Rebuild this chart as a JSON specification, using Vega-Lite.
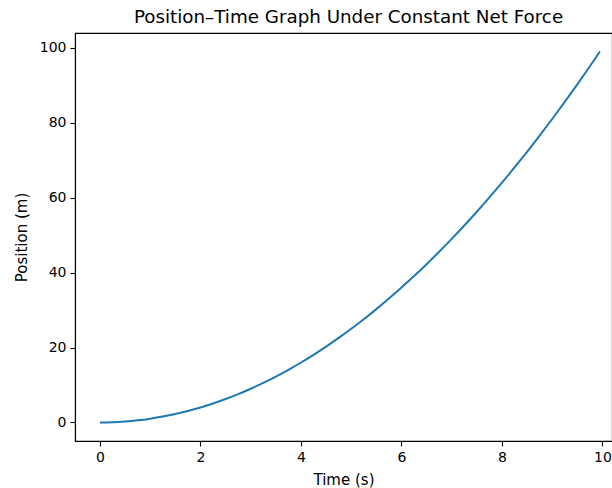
{
  "$schema": "https://vega.github.io/schema/vega-lite/v6.json",
  "autosize": "none",
  "width": 537,
  "height": 408,
  "padding": {"left": 75, "top": 33, "right": 0, "bottom": 47},
  "background": "white",
  "config": {
    "font": "DejaVu Sans",
    "view": {"stroke": "black", "strokeWidth": 1.1},
    "axis": {
      "grid": false,
      "domainColor": "black",
      "domainWidth": 1.1,
      "tickColor": "black",
      "tickWidth": 1.1,
      "tickSize": 5,
      "labelColor": "black",
      "labelFontSize": 14,
      "labelFont": "DejaVu Sans",
      "titleFont": "DejaVu Sans",
      "titleFontSize": 15,
      "titleFontWeight": "normal",
      "titleColor": "black"
    },
    "title": {"font": "DejaVu Sans", "fontSize": 18.3, "fontWeight": "normal", "color": "black"}
  },
  "title": {"text": "Position–Time Graph Under Constant Net Force", "anchor": "middle", "dx": 5, "offset": 6},
  "data": {
    "values": [
      {"t": 0, "x": 0},
      {"t": 0.25, "x": 0.0625},
      {"t": 0.5, "x": 0.25},
      {"t": 0.75, "x": 0.5625},
      {"t": 1, "x": 1},
      {"t": 1.25, "x": 1.5625},
      {"t": 1.5, "x": 2.25},
      {"t": 1.75, "x": 3.0625},
      {"t": 2, "x": 4},
      {"t": 2.25, "x": 5.0625},
      {"t": 2.5, "x": 6.25},
      {"t": 2.75, "x": 7.5625},
      {"t": 3, "x": 9},
      {"t": 3.25, "x": 10.5625},
      {"t": 3.5, "x": 12.25},
      {"t": 3.75, "x": 14.0625},
      {"t": 4, "x": 16},
      {"t": 4.25, "x": 18.0625},
      {"t": 4.5, "x": 20.25},
      {"t": 4.75, "x": 22.5625},
      {"t": 5, "x": 25},
      {"t": 5.25, "x": 27.5625},
      {"t": 5.5, "x": 30.25},
      {"t": 5.75, "x": 33.0625},
      {"t": 6, "x": 36},
      {"t": 6.25, "x": 39.0625},
      {"t": 6.5, "x": 42.25},
      {"t": 6.75, "x": 45.5625},
      {"t": 7, "x": 49},
      {"t": 7.25, "x": 52.5625},
      {"t": 7.5, "x": 56.25},
      {"t": 7.75, "x": 60.0625},
      {"t": 8, "x": 64},
      {"t": 8.25, "x": 68.0625},
      {"t": 8.5, "x": 72.25},
      {"t": 8.75, "x": 76.5625},
      {"t": 9, "x": 81},
      {"t": 9.25, "x": 85.5625},
      {"t": 9.5, "x": 90.25},
      {"t": 9.75, "x": 95.0625},
      {"t": 9.95, "x": 99.0025}
    ]
  },
  "mark": {"type": "line", "color": "#1f77b4", "strokeWidth": 2, "interpolate": "monotone"},
  "encoding": {
    "x": {
      "field": "t",
      "type": "quantitative",
      "scale": {"domain": [-0.4975, 10.19], "nice": false, "zero": false},
      "axis": {"title": "Time (s)", "values": [0, 2, 4, 6, 8, 10], "format": "d", "labelPadding": 4, "titlePadding": 8, "labelFlush": false}
    },
    "y": {
      "field": "x",
      "type": "quantitative",
      "scale": {"domain": [-4.95, 103.95], "nice": false, "zero": false},
      "axis": {"title": "Position (m)", "values": [0, 20, 40, 60, 80, 100], "format": "d", "labelPadding": 4, "titlePadding": 10, "labelFlush": false}
    }
  }
}
